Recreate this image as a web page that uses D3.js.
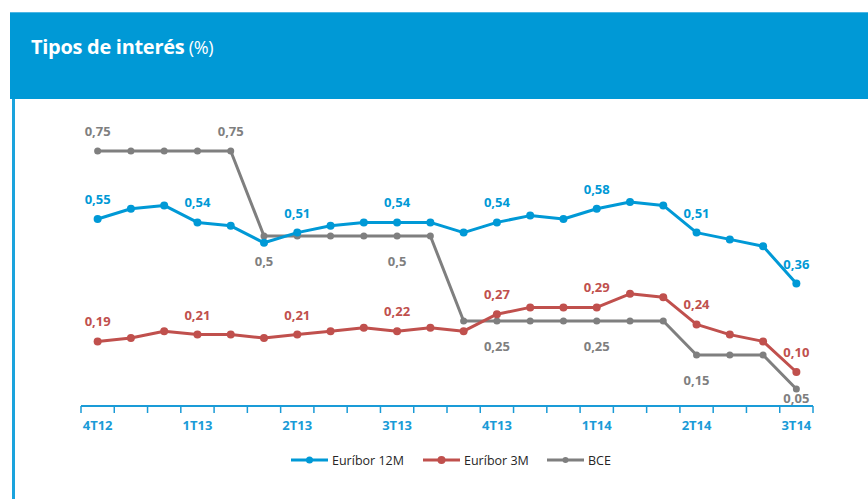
<!DOCTYPE html>
<html><head><meta charset="utf-8">
<script src="https://cdn.jsdelivr.net/npm/d3@7"></script>
<style>body{margin:0;background:#fff}svg{display:block}</style>
</head><body>
<svg id="c" width="868" height="499"></svg>
<script>
const categories = ["4T12","","","1T13","","","2T13","","","3T13","","","4T13","","","1T14","","","2T14","","","3T14"];
const euribor12M = [0.55,0.58,0.59,0.54,0.53,0.48,0.51,0.53,0.54,0.54,0.54,0.51,0.54,0.56,0.55,0.58,0.60,0.59,0.51,0.49,0.47,0.36];
const euribor3M  = [0.19,0.20,0.22,0.21,0.21,0.20,0.21,0.22,0.23,0.22,0.23,0.22,0.27,0.29,0.29,0.29,0.33,0.32,0.24,0.21,0.19,0.10];
const bce        = [0.75,0.75,0.75,0.75,0.75,0.50,0.50,0.50,0.50,0.50,0.50,0.25,0.25,0.25,0.25,0.25,0.25,0.25,0.15,0.15,0.15,0.05];
const labels12M = [0,3,6,9,12,15,18,21];
const labels3M  = [0,3,6,9,12,15,18,21];
const labelsBCEabove = [0,4];
const labelsBCEbelow = [5,9,12,15,18,21];
const seriesNames = ["Euríbor 12M","Euríbor 3M","BCE"];

const svg = d3.select("#c");
const blue = "#0099D6", red = "#C0504D", gray = "#7F7F7F";
const FONT = "'Open Sans',sans-serif";

// header
svg.append("rect").attr("x",10).attr("y",12).attr("width",858).attr("height",87).attr("fill","#0099D6");
svg.append("rect").attr("x",10).attr("y",12).attr("width",858).attr("height",1).attr("fill","#4DB6E4");
svg.append("rect").attr("x",12).attr("y",99).attr("width",3).attr("height",400).attr("fill","#1AA3DD");
const t = svg.append("text").attr("x",31).attr("y",54).attr("fill","#fff")
  .style("font-family",FONT).style("font-size","20px").style("font-weight","700").style("letter-spacing","-0.3px");
t.append("tspan").text("Tipos de interés");
t.append("tspan").text(" (%)").style("font-weight","400").style("font-size","18px");

const x = d3.scaleBand().domain(d3.range(categories.length)).range([81,813]).padding(0);
const y = d3.scaleLinear().domain([0,0.75]).range([406,151]);
const cx = i => x(i) + x.bandwidth()/2;

// axis
const axisG = svg.append("g").attr("transform","translate(0,406)");
axisG.append("line").attr("x1",81).attr("x2",813).attr("stroke","#1A9BD7").attr("stroke-width",2);
const tickPos = d3.range(categories.length+1).map(i => i===categories.length ? 813 : x(i));
axisG.selectAll("line.tk").data(tickPos).enter().append("line").attr("class","tk")
  .attr("x1",d=>d).attr("x2",d=>d).attr("y1",0).attr("y2",7).attr("stroke","#1A9BD7").attr("stroke-width",1.5);
axisG.selectAll("text").data(categories).enter().append("text")
  .attr("x",(d,i)=>cx(i)).attr("y",24).attr("text-anchor","middle").attr("fill","#1A9BD7")
  .style("font-family",FONT).style("font-size","13px").style("font-weight","700")
  .text(d=>d);

const line = d3.line().x((d,i)=>cx(i)).y(d=>y(d));
function drawSeries(data,color,r){
  svg.append("path").datum(data).attr("d",line).attr("fill","none").attr("stroke",color).attr("stroke-width",3).attr("stroke-linejoin","round");
  svg.selectAll(null).data(data).enter().append("circle").attr("cx",(d,i)=>cx(i)).attr("cy",d=>y(d)).attr("r",r).attr("fill",color);
}
drawSeries(bce,gray,3.5);
drawSeries(euribor3M,red,4);
drawSeries(euribor12M,blue,4);

const fmt = v => d3.format(".2f")(v).replace(".",",");
function labels(data,idx,color,dy){
  svg.selectAll(null).data(idx).enter().append("text")
    .attr("x",i=>cx(i)).attr("y",i=>y(data[i])+dy).attr("text-anchor","middle").attr("fill",color)
    .style("font-family",FONT).style("font-size","13px").style("font-weight","700")
    .text(i=>fmt(data[i]));
}
labels(euribor12M,labels12M,blue,-15);
labels(euribor3M,labels3M,red,-15);
labels(bce,labelsBCEabove,gray,-15);
svg.selectAll(null).data(labelsBCEbelow).enter().append("text")
  .attr("x",i=>cx(i)).attr("y",i=> i===21 ? y(bce[i])+14 : y(bce[i])+30).attr("text-anchor","middle").attr("fill",gray)
  .style("font-family",FONT).style("font-size","13px").style("font-weight","700")
  .text(i=> bce[i]===0.5 ? "0,5" : fmt(bce[i]));

// legend
const legX = [291,423,547];
const legColors = [blue,red,gray];
const lg = svg.append("g");
seriesNames.forEach((n,k)=>{
  lg.append("line").attr("x1",legX[k]).attr("x2",legX[k]+37).attr("y1",460).attr("y2",460).attr("stroke",legColors[k]).attr("stroke-width",3);
  lg.append("circle").attr("cx",legX[k]+18.5).attr("cy",460).attr("r",k===2?3:k===1?4:3.5).attr("fill",legColors[k]);
  lg.append("text").attr("x",legX[k]+41).attr("y",465).attr("fill","#262626")
    .style("font-family",FONT).style("font-size","12.5px").text(n);
});
</script>
</body></html>
